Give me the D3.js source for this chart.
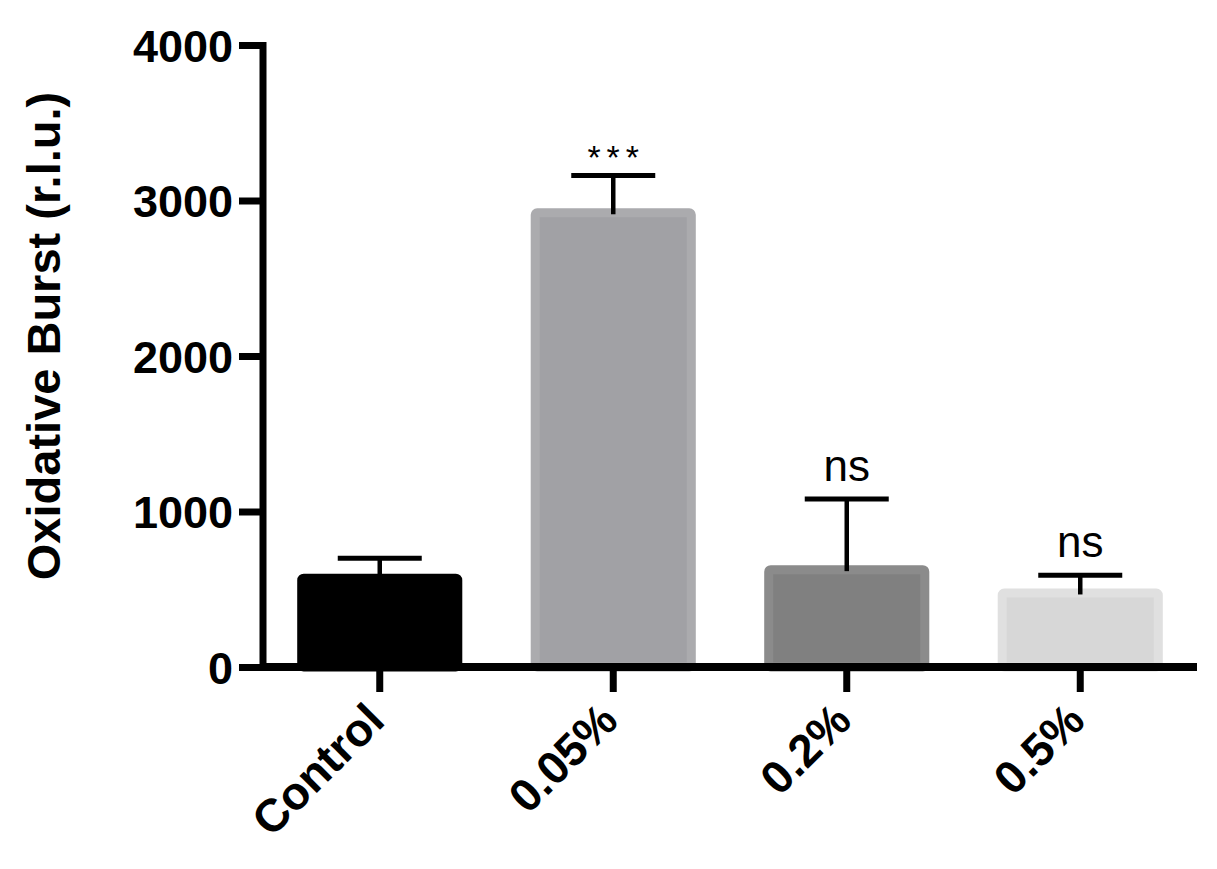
<!DOCTYPE html>
<html>
<head>
<meta charset="utf-8">
<script src="https://cdn.jsdelivr.net/npm/d3@7"></script>
<style>
	body { margin: 0; background: #fff; }
	svg { display: block; }
	.axis text { font-family: "Liberation Sans", Arial, sans-serif; font-weight: bold; fill: #000; }
</style>
</head>
<body>
<div id="chart"></div>
<script>
//===== DATA =====//
var categories = ['Control', '0.05%', '0.2%', '0.5%'];
var means = [600, 2950, 655, 505];
var errors = [100, 210, 425, 85];
var signif = ['', '***', 'ns', 'ns'];
var fills = ['#000000', '#a1a1a5', '#808080', '#d7d7d7'];
var borders = ['#000000', '#ababae', '#8b8b8b', '#e0e0e0'];
var yTicks = [0, 1000, 2000, 3000, 4000];

//===== CHART =====//
var chartWidth = 1217, chartHeight = 869;
var plotLeft = 263, plotRight = 1197, plotTop = 45, plotBottom = 667;

var svg = d3.select('#chart')
	.append('svg')
	.attr('width', chartWidth)
	.attr('height', chartHeight);

var x = d3.scaleBand()
	.domain(categories)
	.range([plotLeft, plotRight])
	.paddingInner(0.293)
	.paddingOuter(0.1465);

var y = d3.scaleLinear()
	.domain([0, 4000])
	.range([plotBottom, plotTop]);

var border = 9;

// bars
var bars = svg.append('g').classed('bars', true);
bars.selectAll('rect')
	.data(categories)
	.enter()
	.append('rect')
	.attr('x', function (d) { return x(d) + border / 2; })
	.attr('y', function (d, i) { return y(means[i]) + border / 2; })
	.attr('width', x.bandwidth() - border)
	.attr('height', function (d, i) { return y(0) - y(means[i]) - border / 2; })
	.attr('rx', 2).attr('ry', 2)
	.attr('fill', function (d, i) { return fills[i]; })
	.attr('stroke', function (d, i) { return borders[i]; })
	.attr('stroke-width', border);

// error bars (upper only)
var capWidth = 84;
var errs = svg.append('g').classed('errors', true);
errs.selectAll('line.stem')
	.data(categories)
	.enter()
	.append('line')
	.classed('stem', true)
	.attr('x1', function (d) { return x(d) + x.bandwidth() / 2; })
	.attr('x2', function (d) { return x(d) + x.bandwidth() / 2; })
	.attr('y1', function (d, i) { return y(means[i]) + 6; })
	.attr('y2', function (d, i) { return y(means[i] + errors[i]); })
	.attr('stroke', '#000')
	.attr('stroke-width', 4.5);
errs.selectAll('line.cap')
	.data(categories)
	.enter()
	.append('line')
	.classed('cap', true)
	.attr('x1', function (d) { return x(d) + x.bandwidth() / 2 - capWidth / 2; })
	.attr('x2', function (d) { return x(d) + x.bandwidth() / 2 + capWidth / 2; })
	.attr('y1', function (d, i) { return y(means[i] + errors[i]); })
	.attr('y2', function (d, i) { return y(means[i] + errors[i]); })
	.attr('stroke', '#000')
	.attr('stroke-width', 5);

// significance labels
svg.append('g').classed('signif', true)
	.selectAll('text')
	.data(categories)
	.enter()
	.append('text')
	.attr('x', function (d, i) { return x(d) + x.bandwidth() / 2 + (signif[i] === '***' ? 3 : 0); })
	.attr('y', function (d, i) {
		return y(means[i] + errors[i]) - (signif[i] === '***' ? 7 : 18);
	})
	.attr('text-anchor', 'middle')
	.style('font-family', '"Liberation Sans", Arial, sans-serif')
	.style('font-size', function (d, i) { return signif[i] === '***' ? '34px' : '44px'; })
	.style('letter-spacing', function (d, i) { return signif[i] === '***' ? '6px' : null; })
	.text(function (d, i) { return signif[i]; });

// y axis
var yAxis = svg.append('g')
	.classed('axis', true)
	.attr('transform', 'translate(' + plotLeft + ',0)')
	.call(d3.axisLeft(y).tickValues(yTicks).tickSize(24).tickSizeOuter(0).tickPadding(6).tickFormat(d3.format('d')));
yAxis.select('.domain')
	.attr('stroke-width', 7)
	.attr('d', 'M0,' + (plotTop - 3) + 'V' + (plotBottom + 4));
yAxis.selectAll('.tick line').attr('stroke-width', 7);
yAxis.selectAll('.tick text').style('font-size', '45px').attr('dy', '0.36em');

// x axis
var xAxis = svg.append('g')
	.classed('axis', true)
	.attr('transform', 'translate(0,' + plotBottom + ')')
	.call(d3.axisBottom(x).tickSize(25).tickSizeOuter(0));
xAxis.select('.domain')
	.attr('stroke-width', 8)
	.attr('d', 'M' + (plotLeft - 3) + ',0H' + plotRight);
xAxis.selectAll('.tick line').attr('stroke-width', 7);
xAxis.selectAll('.tick text')
	.style('font-size', '46px')
	.attr('text-anchor', 'end')
	.attr('dy', null)
	.attr('y', 0)
	.attr('transform', 'translate(7,56) rotate(-45)');

// y axis title
svg.append('text')
	.attr('transform', 'translate(60,336) rotate(-90)')
	.attr('text-anchor', 'middle')
	.style('font-family', '"Liberation Sans", Arial, sans-serif')
	.style('font-weight', 'bold')
	.style('font-size', '47px')
	.text('Oxidative Burst (r.l.u.)');
</script>
</body>
</html>
